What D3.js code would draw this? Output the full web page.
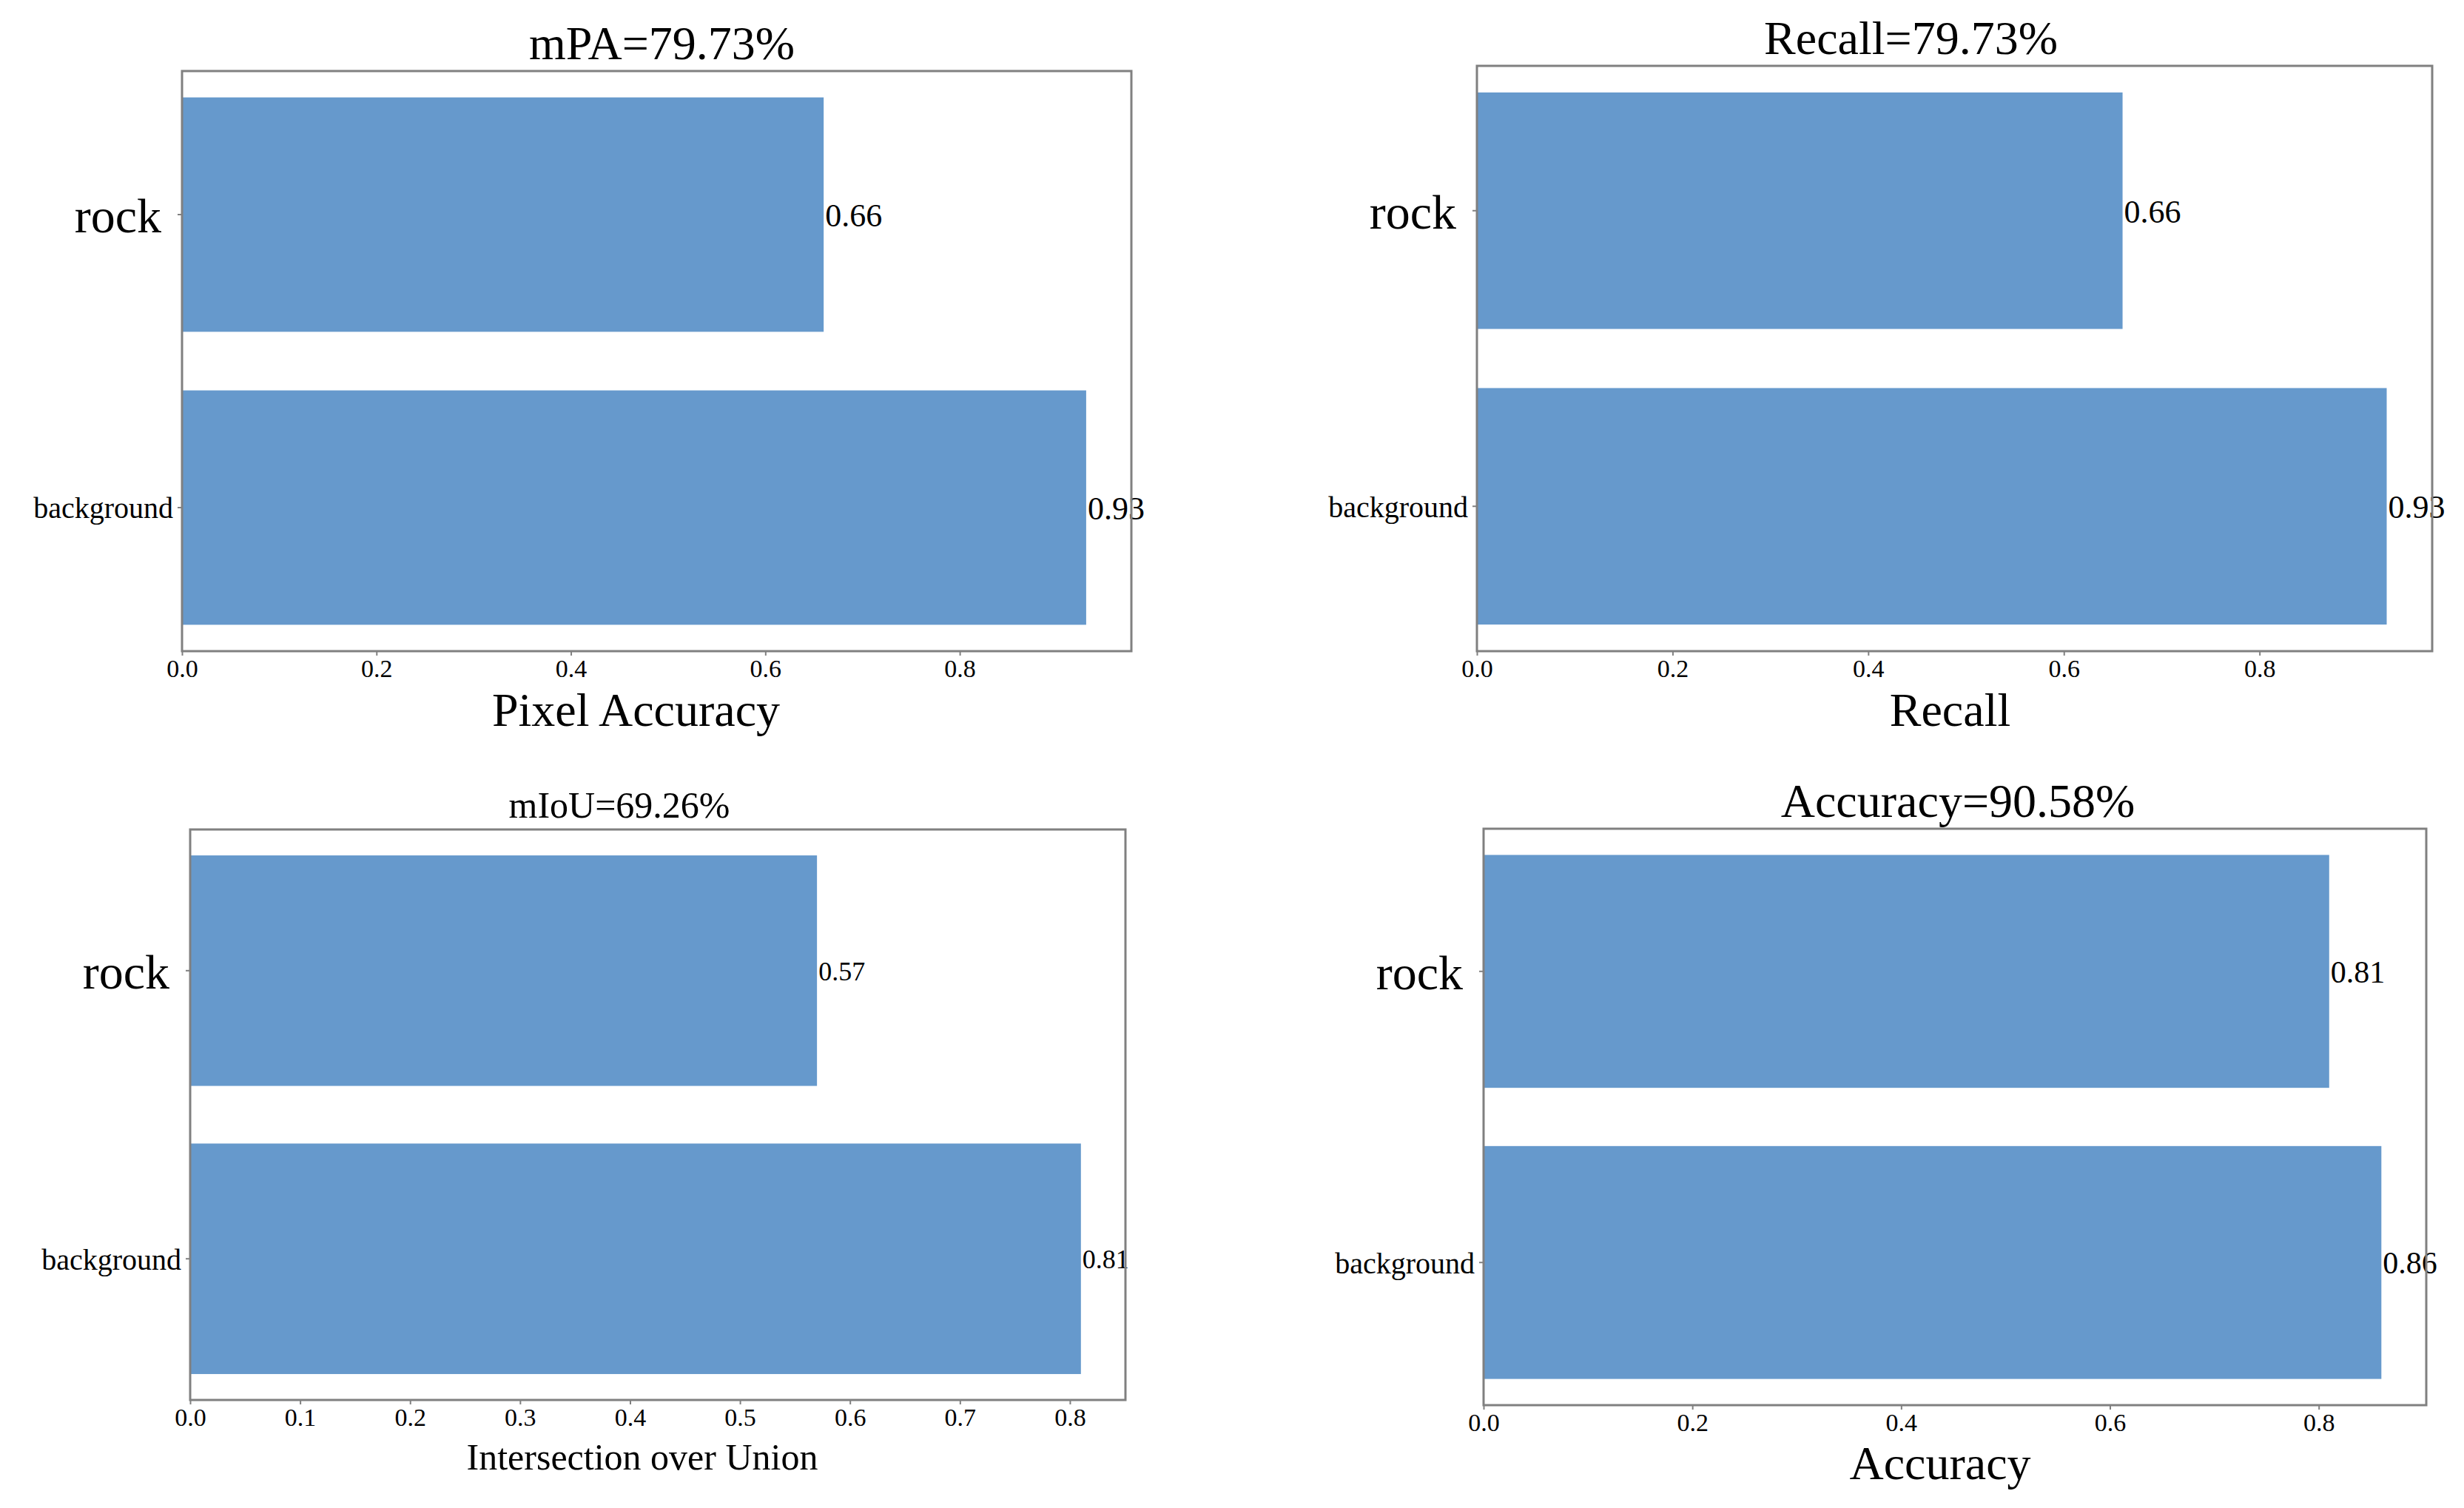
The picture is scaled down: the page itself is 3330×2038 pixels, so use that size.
<!DOCTYPE html>
<html>
<head>
<meta charset="utf-8">
<script src="https://cdn.jsdelivr.net/npm/d3@7"></script>
<style>
  body { margin: 0; background: #fff; }
  text { font-family: "Liberation Serif", "Times New Roman", serif; fill: #000; }
</style>
</head>
<body>
<div id="area"></div>
<script>
// data
let categories = ["rock", "background"];

let pixelAccuracy = [0.66, 0.93],
    recall        = [0.66, 0.93],
    iou           = [0.57, 0.81],
    accuracy      = [0.81, 0.86];

let titles  = ["mPA=79.73%", "Recall=79.73%", "mIoU=69.26%", "Accuracy=90.58%"];
let xLabels = ["Pixel Accuracy", "Recall", "Intersection over Union", "Accuracy"];

let ticksFifth = [0, 0.2, 0.4, 0.6, 0.8],
    ticksTenth = [0, 0.1, 0.2, 0.3, 0.4, 0.5, 0.6, 0.7, 0.8];

// layout, one entry per panel
let panels = [
  {values: pixelAccuracy, ticks: ticksFifth, left: 246,  right: 1529, top: 96,   bottom: 880,
   titleSize: 64, titleDx: 7,   labelSize: 64, labelDx: -28, labelDy: 101, valueSize: 44},
  {values: recall,        ticks: ticksFifth, left: 1996, right: 3287, top: 89,   bottom: 880,
   titleSize: 64, titleDx: -59, labelSize: 64, labelDx: -6,  labelDy: 101, valueSize: 44},
  {values: iou,           ticks: ticksTenth, left: 257,  right: 1521, top: 1121, bottom: 1892,
   titleSize: 50, titleDx: -52, labelSize: 50, labelDx: -21, labelDy: 94,  valueSize: 36},
  {values: accuracy,      ticks: ticksFifth, left: 2005, right: 3279, top: 1120, bottom: 1899,
   titleSize: 64, titleDx: 4,   labelSize: 64, labelDx: -20, labelDy: 100, valueSize: 42}
];

let yLabelStyle = {
  rock:       {size: 66, pad: 22},
  background: {size: 40, pad: 6}
};

let barColor   = "#6699cc",
    spineColor = "#808080";

let svg =
  d3.select("#area")
    .append("svg")
      .attr("width", 3330)
      .attr("height", 2038);

panels.forEach(function(p, i) {
  let data = categories.map(function(c, j) { return {category: c, value: p.values[j]}; });

  let x =
    d3.scaleLinear()
      .domain([0, d3.max(p.values) * 1.05])
      .range([p.left, p.right]);

  let y =
    d3.scaleBand()
      .domain(categories)
      .range([p.top, p.bottom])
      .paddingInner(0.2)
      .paddingOuter(0.09);

  let g = svg.append("g");

  g.selectAll("rect.bar")
    .data(data)
    .enter().append("rect")
      .attr("class", "bar")
      .attr("x", x(0))
      .attr("y", function(d) { return y(d.category); })
      .attr("width", function(d) { return x(d.value) - x(0); })
      .attr("height", y.bandwidth())
      .attr("fill", barColor);

  // value labels at the end of each bar
  g.selectAll("text.value")
    .data(data)
    .enter().append("text")
      .attr("class", "value")
      .attr("x", function(d) { return x(d.value) + 2; })
      .attr("y", function(d) { return y(d.category) + y.bandwidth() / 2; })
      .attr("dy", "0.36em")
      .style("font-size", p.valueSize + "px")
      .text(function(d) { return d.value.toFixed(2); });

  // x axis
  let xAxis = g.append("g")
    .attr("transform", translate(0, p.bottom))
    .call(d3.axisBottom(x)
      .tickValues(p.ticks)
      .tickFormat(d3.format(".1f"))
      .tickSize(6)
      .tickPadding(5));
  xAxis.select(".domain").remove();
  xAxis.selectAll("line").attr("stroke", spineColor).attr("stroke-width", 2);
  xAxis.selectAll("text")
    .style("font-size", "34px")
    .attr("font-family", null);

  // y axis
  let yAxis = g.append("g")
    .attr("transform", translate(p.left, 0))
    .call(d3.axisLeft(y).tickSize(6));
  yAxis.select(".domain").remove();
  yAxis.selectAll("line").attr("stroke", spineColor).attr("stroke-width", 2);
  yAxis.selectAll("text")
    .attr("font-family", null)
    .attr("x", function(d) { return -6 - yLabelStyle[d].pad; })
    .attr("dy", "0.36em")
    .style("font-size", function(d) { return yLabelStyle[d].size + "px"; });

  // frame
  g.append("rect")
    .attr("x", p.left)
    .attr("y", p.top)
    .attr("width", p.right - p.left)
    .attr("height", p.bottom - p.top)
    .attr("fill", "none")
    .attr("stroke", spineColor)
    .attr("stroke-width", 3);

  g.append("text")
    .attr("x", (p.left + p.right) / 2 + p.titleDx)
    .attr("y", p.top - 16)
    .attr("text-anchor", "middle")
    .style("font-size", p.titleSize + "px")
    .text(titles[i]);

  g.append("text")
    .attr("x", (p.left + p.right) / 2 + p.labelDx)
    .attr("y", p.bottom + p.labelDy)
    .attr("text-anchor", "middle")
    .style("font-size", p.labelSize + "px")
    .text(xLabels[i]);
});

function translate(x, y=0) {
  return "translate({x}, {y})"
          .replace("{x}", x)
          .replace("{y}", y);
}
</script>
</body>
</html>
